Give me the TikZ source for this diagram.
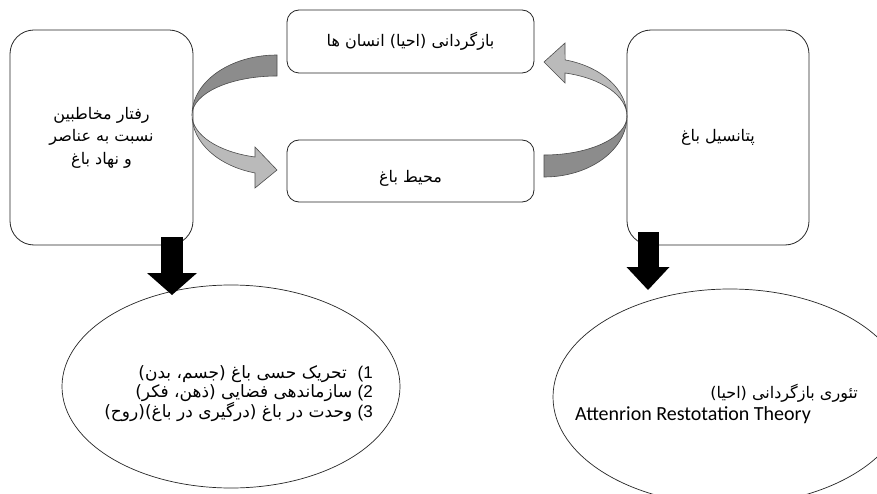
\documentclass[tikz,border=0pt]{standalone}
\usepackage{fontspec}
\setmainfont{Liberation Sans}
\newfontfamily\farsi[Script=Arabic]{DejaVu Sans}
\newfontfamily\calib{Carlito}
\TeXXeTstate=1
\usetikzlibrary{arrows.meta,shapes.geometric}

\begin{document}
\begin{tikzpicture}[x=1pt,y=1pt,
  box/.style={draw=black!85,line width=0.8pt,fill=white,inner sep=0pt,align=center,
    font={\fontsize{16}{22.5}\farsi}},
  oval/.style={draw=black!85,line width=0.7pt,ellipse,inner sep=0pt},
  backband/.style={draw=black!70,line width=0.6pt,fill=black!45},
  frontband/.style={draw=black!70,line width=0.6pt,fill=black!27},
  blockarrow/.style={line width=22pt,-{Triangle[width=50pt,length=22pt,line width=0pt]}}]
\clip (0,0) rectangle (877,-494);
\fill[white] (0,0) rectangle (877,-494);
% boxes
\node[box,rounded corners=24pt,minimum width=183pt,minimum height=215pt] (lbox) at (101.5,-137.5)
  {\beginR رفتار مخاطبین\endR\\\beginR نسبت به عناصر\endR\\\beginR و نهاد باغ\endR};
\node[box,rounded corners=24pt,minimum width=182pt,minimum height=215pt] (rbox) at (718,-137.5)
  {\beginR پتانسیل باغ\endR};
\node[box,rounded corners=12pt,minimum width=247pt,minimum height=63pt] (tbox) at (410.5,-41.5)
  {\beginR بازگردانی (احیا) انسان ها\endR};
\node[box,rounded corners=12pt,minimum width=247pt,minimum height=62pt,text height=26pt] (bbox) at (410.5,-171)
  {\beginR محیط باغ\endR};
% ellipses
\node[oval,minimum width=338pt,minimum height=203pt] (lell) at (231,-386.5) {};
\node[anchor=east,inner sep=0pt,align=right,font={\fontsize{17}{18.8}\farsi}] (ltxt) at (373,-394)
  {\beginR{\rmfamily (1}\ \ تحریک حسی باغ (جسم، بدن)\endR\\
   \beginR{\rmfamily (2} سازماندهی فضایی (ذهن، فکر)\endR\\
   \beginR{\rmfamily (3} وحدت در باغ (درگیری در باغ)(روح)\endR};
\node[oval,minimum width=354pt,minimum height=216pt] (rell) at (730,-397) {};
\node[anchor=east,inner sep=0pt] (rfa) at (858,-393)
  {\fontsize{16}{18}\farsi\beginR تئوری بازگردانی (احیا)\endR};
\node[anchor=west,inner sep=0pt] (ren) at (575,-415)
  {\fontsize{20}{22}\calib Attenrion Restotation Theory};
% curved arrows
\draw[backband] (277,-55) arc[start angle=90,end angle=180,x radius=85pt,y radius=60pt]
  arc[start angle=180,end angle=90,x radius=85pt,y radius=39pt] -- cycle;
\draw[frontband] (192,-115) arc[start angle=180,end angle=255,x radius=85pt,y radius=60pt]
  -- (255,-188) -- (277,-170) -- (255,-147) -- (255,-157)
  arc[start angle=255,end angle=180,x radius=85pt,y radius=43.5pt] -- cycle;
\draw[backband] (544,-177) arc[start angle=270,end angle=360,x radius=83pt,y radius=61pt]
  arc[start angle=0,end angle=-90,x radius=83pt,y radius=39pt] -- cycle;
\draw[frontband] (627,-116) arc[start angle=0,end angle=75.3,x radius=83pt,y radius=58pt]
  -- (565,-43) -- (544,-62) -- (565,-83) -- (565,-73)
  arc[start angle=75.3,end angle=0,x radius=83pt,y radius=44.5pt] -- cycle;
% block arrows
\coordinate (ltip) at (172,-295);
\coordinate (rtip) at (648,-290);
\draw[blockarrow] ([yshift=8pt]lbox.south -| ltip) -- (ltip);
\draw[blockarrow,line width=21pt,-{Triangle[width=43pt,length=23pt,line width=0pt]}] ([yshift=13pt]rbox.south -| rtip) -- (rtip);
\end{tikzpicture}
\end{document}
